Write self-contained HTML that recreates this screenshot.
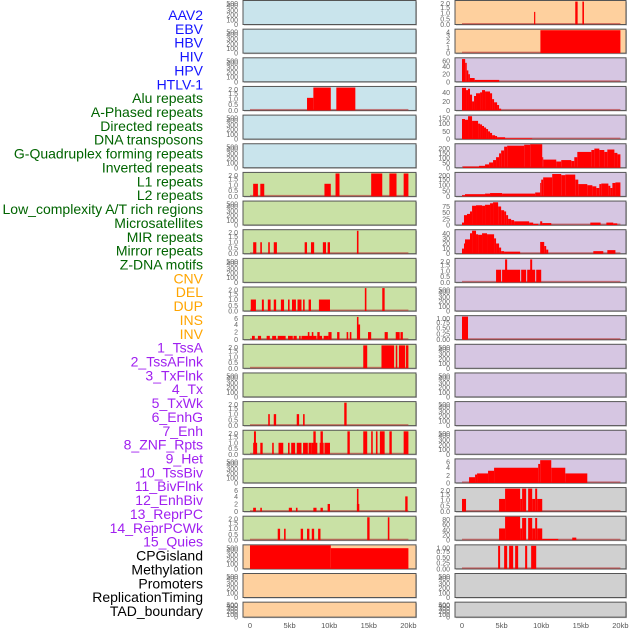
<!DOCTYPE html>
<html><head><meta charset="utf-8"><style>
html,body{margin:0;padding:0;background:#fff;width:630px;height:630px;overflow:hidden}
svg{display:block;font-family:"Liberation Sans",sans-serif}
</style></head><body>
<svg id="c" width="630" height="630" viewBox="0 0 630 630"></svg>
<script>
const labelNames = ["AAV2","EBV","HBV","HIV","HPV","HTLV-1","Alu repeats","A-Phased repeats","Directed repeats","DNA transposons","G-Quadruplex forming repeats","Inverted repeats","L1 repeats","L2 repeats","Low_complexity A/T rich regions","Microsatellites","MIR repeats","Mirror repeats","Z-DNA motifs","CNV","DEL","DUP","INS","INV","1_TssA","2_TssAFlnk","3_TxFlnk","4_Tx","5_TxWk","6_EnhG","7_Enh","8_ZNF_Rpts","9_Het","10_TssBiv","11_BivFlnk","12_EnhBiv","13_ReprPC","14_ReprPCWk","15_Quies","CPGisland","Methylation","Promoters","ReplicationTiming","TAD_boundary"];
const labelColors = ["#1414ff","#1414ff","#1414ff","#1414ff","#1414ff","#1414ff","#006400","#006400","#006400","#006400","#006400","#006400","#006400","#006400","#006400","#006400","#006400","#006400","#006400","#ffa500","#ffa500","#ffa500","#ffa500","#ffa500","#a020f0","#a020f0","#a020f0","#a020f0","#a020f0","#a020f0","#a020f0","#a020f0","#a020f0","#a020f0","#a020f0","#a020f0","#a020f0","#a020f0","#a020f0","#000","#000","#000","#000","#000"];
const xTickValues = [0,5,10,15,20];
const xTickLabels = ["0","5kb","10kb","15kb","20kb"];
const T2 = ["0.0","0.5","1.0","1.5","2.0"], T5 = ["0","100","200","300","400","500"], T6 = ["0","2","4","6"], T1 = ["0.00","0.25","0.50","0.75","1.00"];
const B="#c9e4ec", G="#c9e1a5", O="#fed09e", P="#d6c6e2", Y="#d0d0d0";
const leftBg = [B,B,B,B,B,B,G,G,G,G,G,G,G,G,G,G,G,G,G,O,O,O];
const leftTicks = [T5,T5,T5,T2,T5,T5,T2,T5,T2,T5,T2,T6,T2,T5,T2,T2,T5,T6,T2,T5,T5,T5];
const leftYmax = [500,500,500,2.05,500,500,2.05,500,2.05,500,2.05,6.2,2.05,500,2.05,2.05,500,6.2,2.05,500,500,500];
const leftSegs = [[],[],[],
[[7.2,8.0,1.1],[8.0,10.2,2],[10.9,13.3,2]],
[],[],
[[0.4,1.0,1.1],[1.3,1.8,1.1],[9.4,10.2,1.1],[10.8,11.3,2],[15.3,16.7,2],[17.6,18.5,2],[19.4,20,2]],
[],
[[0.4,0.8,1],[1.3,1.5,1],[2.3,2.5,1],[3.0,3.4,1],[6.9,7.2,1],[7.7,8.1,1],[9.2,9.6,1],[9.8,10.1,1],[13.5,13.7,2]],
[],
[[0.1,0.75,1],[1.5,1.75,1],[2.25,2.6,1],[3.0,3.3,1],[3.9,4.3,1],[4.8,5.0,1],[5.3,5.8,1],[6.0,6.5,1],[6.7,6.9,1],[7.4,7.7,1],[8.7,10.1,1],[14.5,14.7,2],[16.7,17.0,2]],
[[0.25,0.6,1],[1.0,1.4,1],[2.1,2.5,1],[2.8,3.3,1],[3.5,4.5,1],[4.8,5.4,1],[5.5,5.9,1],[6.2,6.4,1],[6.5,8.4,1],[7.3,7.5,2],[7.8,8.0,2],[8.5,9.1,1],[8.5,8.8,2],[9.3,9.9,1],[9.9,10.3,2],[11.0,11.3,2],[12.2,12.4,2],[12.6,12.8,2],[13.5,13.7,6],[13.7,13.9,4],[14.9,15.3,2],[17.0,17.4,2],[18.4,18.9,2],[19.0,19.3,2]],
[[14.3,14.8,2],[16.6,18.2,2],[18.4,18.6,2],[18.8,19.6,2],[19.7,20,2]],
[],
[[2.3,2.5,1],[3.0,3.3,1],[5.9,6.2,1],[6.7,6.9,1],[11.9,12.2,2]],
[[0.4,0.9,1],[0.5,0.75,2],[1.3,1.6,1],[2.8,3.0,1],[3.6,4.2,1],[4.8,5.0,1],[5.2,5.7,1],[5.9,6.5,1],[6.7,7.3,1],[7.4,7.8,1],[7.8,8.5,1],[8.0,8.3,2],[8.8,9.3,1],[8.9,9.2,2],[9.4,10.1,1],[12.3,12.6,2],[14.3,14.8,2],[15.3,15.5,2],[15.9,16.1,2],[16.4,17.0,2],[17.6,17.9,2],[19.4,20,2]],
[],
[[0.4,0.75,1],[1.3,1.5,1],[4.9,5.3,1],[5.8,6.0,1],[8.0,8.4,1],[8.9,9.2,1],[9.8,10.1,2],[13.5,13.7,6],[13.5,13.8,2],[19.6,19.9,4]],
[[3.5,3.8,1],[4.3,4.5,1],[6.4,6.7,1],[7.2,7.5,1],[7.8,8.1,1],[8.6,8.9,1],[14.8,15.1,2],[17.4,17.6,2]],
[[0,10.2,500],[10.2,20,440]],
[],[]];
const rightBg = [O,O,P,P,P,P,P,P,P,P,P,P,P,P,P,P,P,Y,Y,Y,Y,Y];
const rightTicks = [T2,["0","1","2","3","4"],["0","20","40","60"],["0","20","40"],["0","50","100","150"],["0","50","100","150","200"],["0","50","100","150","200"],["0","25","50","75"],["0","10","20","30","40"],T2,T5,T1,T5,T5,T5,T5,T6,T2,["0","20","40","60","80"],T1,T5,T5];
const rightYmax = [2.05,4.1,62,52,152,245,210,95,46,2.05,500,1.02,500,500,500,500,6.2,2.05,90,1.02,500,500];
const rightSegs = [
[[9.1,9.25,1.1],[14.3,14.6,2],[15.2,15.4,2]],
[[9.9,20,4]],
[[0,0.4,60],[0.4,0.6,50],[0.6,0.8,30],[0.8,1.0,20],[1.0,1.6,10],[1.6,4.7,5]],
[[0,0.51,50],[0.51,0.76,45],[0.76,1.01,48],[1.01,1.27,35],[1.27,1.52,20],[1.52,1.77,32],[1.77,2.28,38],[2.28,2.53,40],[2.53,2.91,45],[2.91,3.54,42],[3.54,3.80,38],[3.80,4.05,25],[4.05,4.43,18],[4.43,4.68,12],[4.68,4.94,4]],
[[0,0.38,130],[0.38,0.76,125],[0.76,1.27,148],[1.27,2.03,118],[2.03,2.28,100],[2.28,2.53,95],[2.53,2.78,85],[2.78,3.04,75],[3.04,3.29,65],[3.29,3.54,50],[3.54,3.80,40],[3.80,4.18,25],[4.18,4.43,20],[4.43,5.44,12],[5.44,8.86,5]],
[[0.13,2.15,12],[2.15,2.91,20],[2.91,3.42,35],[3.42,3.92,55],[3.92,4.30,80],[4.30,4.68,110],[4.68,4.94,150],[4.94,5.32,180],[5.32,5.70,220],[5.70,7.85,230],[7.85,8.61,240],[8.61,10.13,245],[10.13,10.25,110],[10.25,11.90,85],[11.90,12.53,65],[12.53,13.80,80],[13.80,14.18,70],[14.18,14.56,110],[14.56,16.33,165],[16.33,16.71,185],[16.71,17.34,200],[17.34,17.97,185],[17.97,18.35,165],[18.35,19.24,190],[19.24,19.62,155],[19.62,20,140]],
[[0,0.38,10],[0.38,2.91,20],[2.91,3.54,25],[3.54,5.06,30],[5.06,9.24,25],[9.24,9.87,35],[9.87,10.0,120],[10.0,10.25,150],[10.25,11.39,170],[11.39,12.53,200],[12.53,13.04,190],[13.04,14.30,195],[14.30,14.68,150],[14.68,15.82,110],[15.82,16.46,100],[16.46,16.96,90],[16.96,17.34,75],[17.34,17.59,110],[17.59,18.48,115],[18.48,18.73,95],[18.73,18.99,75],[18.99,19.37,120],[19.37,20,125]],
[[0,0.25,10],[0.25,0.63,40],[0.63,1.01,45],[1.01,1.27,55],[1.27,1.77,78],[1.77,2.53,80],[2.53,2.91,78],[2.91,3.54,82],[3.54,3.92,88],[3.92,4.56,92],[4.56,4.94,75],[4.94,5.32,60],[5.32,5.57,55],[5.57,5.82,40],[5.82,6.2,25],[6.2,6.58,20],[6.58,8.48,15],[8.48,8.99,10],[8.99,9.62,5],[9.87,10.13,15],[10.13,11.27,8],[16.2,17.5,10],[18.23,19.1,10],[19.1,19.6,7]],
[[0,0.25,10],[0.25,0.38,20],[0.38,1.01,28],[1.01,1.27,40],[1.27,1.77,45],[1.77,2.03,38],[2.03,2.53,37],[2.53,3.16,40],[3.16,4.05,38],[4.05,4.3,30],[4.3,4.68,20],[4.68,4.94,12],[4.94,5.32,5],[5.32,7.34,4],[9.87,10.38,23],[10.38,10.63,15],[10.63,10.89,8],[16.58,17.84,5],[18.35,19.37,7]],
[[4.3,4.94,1.1],[5.06,7.34,1.1],[5.44,5.7,2],[7.47,8.1,1.1],[8.23,9.24,1.1],[8.61,8.86,2],[9.37,10.0,1.1]],
[],
[[0,0.76,1]],
[],[],[],[],
[[0.89,1.65,1.5],[1.65,1.9,2.2],[1.9,3.29,2.5],[3.29,4.05,3.2],[4.05,9.62,4],[9.62,9.87,5],[9.87,11.27,6],[11.27,13.04,4],[13.04,15.82,2.5]],
[[0,0.51,1.1],[4.68,5.44,1.1],[5.44,7.34,2],[7.34,7.59,1.1],[7.59,8.10,2],[8.35,8.86,2],[8.86,9.24,1.1],[9.24,9.49,2],[9.49,10.13,1.1]],
[[4.68,5.44,45],[5.44,7.34,90],[7.34,7.59,45],[7.59,8.10,85],[8.35,8.86,85],[8.86,9.24,45],[9.24,9.49,85],[9.49,10.13,45],[10.13,12.15,5],[13.92,14.43,10]],
[[4.56,4.81,1],[5.32,5.70,1],[5.95,6.46,1],[6.71,7.09,1],[7.97,8.23,1],[8.73,9.37,1]],
[],[]];

const NS="http://www.w3.org/2000/svg";
const svg=document.getElementById('c');
function mk(tag,attrs,parent){const e=document.createElementNS(NS,tag);for(const k in attrs)e.setAttribute(k,attrs[k]);(parent||svg).appendChild(e);return e;}
const rowTop=i=>0.5+28.65*i;
const rowH=i=>i===21?15:24;

// labels
labelNames.forEach((t,i)=>{
  const el=mk('text',{x:203,y:15+i*13.86+5,'text-anchor':'end','font-size':14,fill:labelColors[i]});
  el.textContent=t;
  
  
});

function column(bgs,ticks,ymaxs,segs,px0,px1,x0,tickX,name){
  const xs=kb=>x0+7.92*kb;
  for(let i=0;i<bgs.length;i++){
    const top=rowTop(i),h=rowH(i);
    const g=mk('g',{});
    
    
    mk('rect',{x:px0+1,y:top+1,width:px1-px0,height:h,fill:'#bbb'},g);
    mk('rect',{x:px0,y:top,width:px1-px0,height:h,fill:bgs[i],stroke:'#555','stroke-width':1},g);
    const ym=ymaxs[i], yb=top+h, ys=v=>yb-(v/ym)*(h-0.5);
    if(segs[i].length){
      const bl=mk('rect',{x:xs(0),y:yb-1.5,width:xs(20)-xs(0),height:1.5,fill:'#b33','opacity':0.6},g);
      
      
    }
    segs[i].forEach(s=>{
      const r=mk('rect',{x:xs(s[0]),y:ys(s[2]),width:Math.max(1,xs(s[1])-xs(s[0])),height:yb-ys(s[2]),fill:'#ff0000'},g);
      
      
    });
    ticks[i].forEach(t=>{
      const v=parseFloat(t);
      const tt=mk('text',{x:tickX,y:Math.min(yb,Math.max(top+3,ys(v)))+2.5,'text-anchor':'end','font-size':7,fill:'#666'},g);
      tt.textContent=t;
      
      
    });
  }
  xTickValues.forEach((v,j)=>{
    const t=mk('text',{x:xs(v),y:628,'text-anchor':'middle','font-size':7.5,fill:'#555'});
    t.textContent=xTickLabels[j];
    
    
  });
}
column(leftBg,leftTicks,leftYmax,leftSegs,243,416,250,238,'left');
column(rightBg,rightTicks,rightYmax,rightSegs,455,626,462,450,'right');
</script>
</body></html>
